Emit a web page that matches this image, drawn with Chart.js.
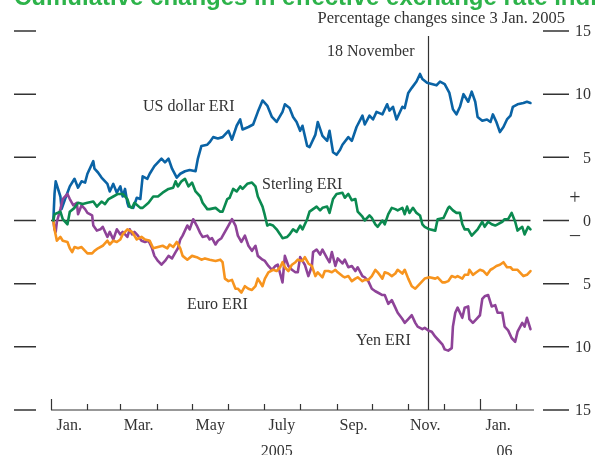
<!DOCTYPE html>
<html>
<head>
<meta charset="utf-8">
<script src="https://cdn.jsdelivr.net/npm/chart.js@4"></script>
<style>
  body { margin: 0; background: #fff; }
</style>
</head>
<body>
<canvas id="myChart" width="595" height="455"></canvas>
<script>
// days counted from 1 Jan. 2005, values = % change since 3 Jan. 2005
const usdDays = [2,3,4,8,9,12,16,20,23,26,29,31,36,37,40,43,48,50,53,56,59,61,63,65,66,70,73,76,78,82,84,88,91,94,97,100,103,107,110,114,118,123,125,128,133,135,138,142,146,151,154,158,161,163,168,172,176,180,184,188,192,197,199,203,206,209,212,214,218,220,225,227,231,235,237,240,243,246,248,253,256,260,265,267,271,274,277,282,286,288,291,294,299,301,304,307,311,314,316,320,324,328,331,335,339,342,345,348,351,355,358,361,363,367,371,374,376,379,382,385,388,391,393,397,402,405,408];
const usdValues = [0,2.1,3.1,1.9,0.9,1.7,2.7,3.3,2.6,3.1,3.0,3.7,4.7,4.1,3.8,3.4,2.9,2.3,2.9,2.2,2.7,1.9,2.5,1.4,1.1,1.0,1.8,1.7,3.5,3.3,3.7,4.3,4.6,4.9,4.6,4.9,4.1,3.4,3.7,3.9,4.0,3.9,4.9,5.9,6.0,6.2,6.6,6.5,6.6,7.1,6.4,7.5,8.0,7.2,7.4,7.6,8.6,9.5,9.1,8.2,7.8,8.6,9.2,8.9,8.2,7.8,7.1,7.5,5.9,5.8,6.8,7.8,6.7,6.3,7.1,5.4,5.2,5.6,6.0,6.6,6.3,7.4,8.3,7.6,8.3,8.0,8.6,8.4,9.2,8.7,9.0,8.0,9.0,8.9,10.1,10.5,11.0,11.6,11.2,10.9,10.8,10.7,11.0,10.8,10.1,8.8,8.4,9.0,10.0,9.4,10.2,9.4,8.2,7.9,8.0,7.8,8.4,7.8,7.0,7.4,8.0,8.3,9.0,9.2,9.3,9.4,9.3];

const sterlingDays = [2,3,8,10,14,16,20,23,27,31,36,39,43,46,49,53,57,61,65,67,69,71,76,78,83,87,91,95,100,104,106,108,111,114,117,120,123,127,129,133,135,140,144,146,150,152,155,158,161,163,167,171,174,176,180,182,184,186,189,192,195,197,201,203,206,209,212,214,218,220,223,226,229,231,235,237,240,243,248,250,253,256,259,261,265,267,271,273,276,278,282,284,287,290,293,295,299,301,303,305,308,311,314,316,318,322,327,329,334,338,339,342,345,348,350,352,355,358,361,363,367,369,372,375,378,380,384,386,389,392,395,397,401,403,406,408];
const sterlingValues = [0,0.5,0.7,0.1,-0.3,0.7,1.0,1.4,1.3,1.4,1.5,1.1,1.5,1.3,1.7,1.9,2.1,2.1,1.7,1.1,1.0,1.4,1.0,1.0,1.4,1.9,1.9,2.2,2.5,2.6,3.1,2.7,3.1,3.3,2.7,3.0,2.3,1.9,1.4,0.9,0.9,1.0,0.7,0.7,1.7,1.8,2.5,2.3,2.7,2.5,2.9,3.0,2.7,1.9,1.1,0.4,-0.4,-0.3,-0.4,-0.7,-1.1,-1.4,-1.3,-1.1,-0.7,-0.9,-0.4,-0.7,0.1,0.7,0.9,1.1,0.8,1.0,1.1,0.6,1.7,2.1,2.2,1.8,2.1,1.6,1.7,0.7,0.3,0.0,0.4,0.2,-0.3,-0.5,0.0,-0.3,0.5,1.0,0.9,0.8,1.0,0.5,1.1,0.6,1.0,0.6,0.4,-0.3,-0.5,-0.7,-0.8,0.1,0.2,1.0,1.1,0.8,0.6,0.6,-0.3,-0.7,-0.7,-1.2,-0.9,-0.7,-0.1,-0.5,-0.1,-0.3,-0.4,-0.3,-0.1,0.1,0.1,0.6,-0.1,-0.8,-0.5,-1.1,-0.5,-0.7];

const euroDays = [2,3,5,8,10,14,16,18,20,23,26,29,31,35,37,40,44,48,50,53,56,59,61,65,69,73,77,80,84,87,91,95,99,101,104,107,110,112,116,120,124,128,131,135,140,144,146,148,151,154,157,159,162,165,168,171,174,176,180,182,185,189,192,195,197,199,202,205,208,210,214,216,219,222,225,227,231,233,236,239,242,244,248,250,253,256,259,261,265,267,270,273,276,278,282,284,287,290,293,295,299,301,304,307,310,312,316,318,322,327,329,333,335,338,341,344,346,350,352,355,356,359,362,365,368,371,374,376,379,382,385,388,391,393,397,399,402,405,408];
const euroValues = [0,-0.7,-1.6,-1.3,-1.6,-1.7,-2.2,-2.5,-2.1,-2.2,-2.1,-2.4,-2.6,-2.6,-2.4,-2.2,-2.0,-1.6,-1.9,-1.6,-1.7,-1.5,-1.1,-0.7,-0.9,-1.5,-1.3,-1.5,-1.6,-2.2,-2.1,-2.0,-2.2,-1.9,-2.1,-1.7,-2.2,-2.8,-3.1,-2.8,-2.9,-3.1,-3.0,-3.1,-3.2,-3.1,-3.3,-4.6,-4.8,-4.7,-5.4,-5.4,-5.7,-5.2,-5.4,-5.5,-5.2,-4.6,-5.2,-4.6,-4.1,-3.9,-4.0,-3.7,-3.3,-3.7,-4.0,-3.5,-3.3,-3.1,-3.2,-2.9,-3.4,-3.6,-4.4,-4.1,-4.5,-4.0,-4.0,-4.1,-3.9,-4.1,-4.4,-4.5,-4.4,-4.8,-4.6,-4.5,-4.8,-4.7,-4.7,-4.4,-3.9,-4.1,-4.6,-4.1,-4.2,-4.4,-4.2,-3.9,-4.2,-3.9,-4.6,-5.2,-5.4,-5.2,-4.8,-4.6,-4.5,-4.6,-4.5,-4.9,-4.9,-4.8,-4.4,-4.5,-4.4,-4.6,-4.3,-4.3,-3.9,-4.3,-4.1,-3.9,-4.0,-4.3,-3.9,-3.8,-3.6,-3.5,-3.3,-3.7,-3.7,-3.9,-3.9,-4.1,-4.4,-4.3,-4.0];

const yenDays = [2,3,4,5,8,10,14,16,19,22,23,26,29,31,35,36,39,42,44,48,50,53,56,59,61,65,67,69,71,74,77,80,83,86,88,91,94,97,100,103,106,108,110,112,116,118,121,124,127,129,133,135,137,140,142,145,148,151,154,157,159,162,165,168,171,174,176,180,182,185,188,191,193,197,199,202,205,208,210,212,214,216,219,222,223,226,229,231,235,237,239,242,244,248,250,253,256,259,261,265,267,270,273,276,278,282,284,287,290,293,295,299,301,304,307,310,312,316,318,321,324,327,329,333,335,338,341,342,344,346,350,352,355,356,359,362,365,367,369,372,375,378,380,384,386,389,392,395,397,401,403,405,408];
const yenValues = [0,-0.7,-0.9,-0.1,0.9,1.7,2.1,1.7,1.2,1.4,0.5,1.2,0.9,0.6,0.4,-0.4,-0.8,-0.7,-0.5,-1.3,-0.9,-1.5,-0.7,-1.1,-0.9,-1.3,-0.7,-1.1,-0.9,-1.2,-1.6,-1.7,-1.6,-2.2,-2.8,-3.2,-3.5,-3.2,-2.8,-3.0,-2.5,-2.2,-1.5,-1.2,-0.4,-0.7,0.1,-0.4,-1.0,-1.3,-1.2,-1.5,-1.4,-1.9,-1.6,-1.4,-0.9,-0.4,0.1,-0.4,-1.2,-1.7,-1.2,-2.0,-2.4,-2.0,-2.8,-3.1,-3.2,-3.6,-3.9,-3.6,-3.5,-4.9,-2.8,-3.6,-3.9,-4.1,-4.1,-2.9,-3.2,-3.5,-4.4,-3.6,-2.5,-2.3,-2.7,-2.3,-3.0,-3.3,-2.5,-3.6,-3.0,-3.4,-3.1,-3.7,-3.6,-4.0,-3.7,-4.4,-4.5,-4.8,-5.4,-5.6,-5.7,-5.9,-5.9,-6.6,-6.3,-6.9,-7.3,-7.8,-8.1,-7.8,-7.5,-8.1,-8.4,-8.6,-8.5,-8.7,-8.8,-9.2,-9.4,-9.8,-10.2,-10.3,-10.1,-8.4,-7.3,-6.9,-7.7,-6.9,-6.8,-7.8,-8.1,-7.8,-7.5,-6.2,-6.0,-5.9,-6.8,-6.7,-7.3,-7.3,-8.4,-8.7,-9.3,-9.6,-8.8,-8.1,-8.4,-7.7,-8.6];

// axis stuff
const monthStarts = [0,31,59,90,120,151,181,212,243,273,304,334,365,396];
const monthLabels = ["Jan.","Mar.","May","July","Sep.","Nov.","Jan."];
const monthLabelDays = [15.5,74.5,135.5,196.5,257.5,318.5,380.5];
const yTicks = [15,10,5,0,-5,-10,-15];
const markerDay = 321; // 18 November

const serif = '"Liberation Serif", "Times New Roman", serif';
const ink = '#333';

const mk = (days, vals) => days.map((d, i) => ({x: d, y: vals[i]}));

const decor = {
  id: 'decor',
  beforeDatasetsDraw(chart) {
    const {ctx, scales: {x, y}} = chart;
    ctx.save();
    ctx.strokeStyle = ink;
    ctx.lineWidth = 1.5;
    ctx.beginPath();
    ctx.moveTo(x.getPixelForValue(0), y.getPixelForValue(0));
    ctx.lineTo(x.getPixelForValue(408), y.getPixelForValue(0));
    ctx.stroke();
    const nx = Math.round(x.getPixelForValue(markerDay)) + 0.5;
    ctx.lineWidth = 1.2;
    ctx.beginPath();
    ctx.moveTo(nx, y.getPixelForValue(14.6));
    ctx.lineTo(nx, y.getPixelForValue(-15));
    ctx.stroke();
    ctx.restore();
  },
  afterDatasetsDraw(chart) {
    const {ctx, chartArea, scales: {x, y}} = chart;
    ctx.save();
    ctx.strokeStyle = ink;
    ctx.fillStyle = ink;
    ctx.lineWidth = 1.5;
    // side ticks + labels
    yTicks.forEach(v => {
      const py = y.getPixelForValue(v);
      ctx.beginPath();
      ctx.moveTo(chartArea.left - 37, py); ctx.lineTo(chartArea.left - 15, py);
      ctx.moveTo(chartArea.right + 9, py); ctx.lineTo(chartArea.right + 35, py);
      ctx.stroke();
    });
    ctx.font = '16px ' + serif;
    ctx.textAlign = 'right';
    ctx.textBaseline = 'middle';
    yTicks.forEach(v => {
      ctx.fillText(String(Math.abs(v)), chartArea.right + 57, y.getPixelForValue(v) + 1);
    });
    ctx.textAlign = 'center';
    ctx.font = '20px ' + serif;
    ctx.fillText('+', chartArea.right + 41, y.getPixelForValue(0) - 22);
    ctx.fillText('\u2013', chartArea.right + 41, y.getPixelForValue(0) + 15);

    // bottom axis
    const by = y.getPixelForValue(-15);
    ctx.lineWidth = 1.2;
    ctx.beginPath();
    ctx.moveTo(x.getPixelForValue(0), by);
    ctx.lineTo(x.getPixelForValue(411), by);
    monthStarts.forEach(d => {
      const px = Math.round(x.getPixelForValue(d)) + 0.5;
      const h = (d === 0 || d === 365) ? 11 : 6;
      ctx.moveTo(px, by); ctx.lineTo(px, by - h);
    });
    ctx.stroke();
    ctx.font = '16px ' + serif;
    ctx.textBaseline = 'alphabetic';
    monthLabels.forEach((t, i) => {
      ctx.fillText(t, x.getPixelForValue(monthLabelDays[i]), by + 20);
    });
    ctx.fillText('2005', x.getPixelForValue(192), by + 46);
    ctx.fillText('06', x.getPixelForValue(386), by + 46);

    // annotations
    ctx.textAlign = 'right';
    ctx.font = '16.5px ' + serif;
    ctx.fillText('Percentage changes since 3 Jan. 2005', 565, 23);
    ctx.font = '16px ' + serif;
    ctx.textAlign = 'left';
    ctx.fillText('18 November', 327, 56);
    ctx.fillText('US dollar ERI', 143, 111);
    ctx.fillText('Sterling ERI', 262, 189);
    ctx.fillText('Euro ERI', 187, 309);
    ctx.fillText('Yen ERI', 356, 345);

    // title, cut off at top
    ctx.fillStyle = '#2db34a';
    ctx.font = 'bold 24px "Liberation Sans", Arial, sans-serif';
    ctx.fillText('Cumulative changes in effective exchange rate indices', 14, 5);
    ctx.restore();
  }
};

const data = {
  datasets: [
    {label: 'Sterling ERI', data: mk(sterlingDays, sterlingValues), borderColor: '#0b8a50'},
    {label: 'Euro ERI', data: mk(euroDays, euroValues), borderColor: '#f7941e'},
    {label: 'Yen ERI', data: mk(yenDays, yenValues), borderColor: '#8e4398'},
    {label: 'US dollar ERI', data: mk(usdDays, usdValues), borderColor: '#0a63a5'},
  ]
};

const config = {
  type: 'line',
  data: data,
  options: {
    responsive: false,
    animation: false,
    devicePixelRatio: 1,
    layout: {padding: {left: 51, right: 61, top: 31, bottom: 45}},
    elements: {
      point: {radius: 0},
      line: {borderWidth: 2.6, tension: 0, borderJoinStyle: 'round', borderCapStyle: 'round'}
    },
    plugins: {legend: {display: false}, tooltip: {enabled: false}},
    scales: {
      x: {type: 'linear', min: 0, max: 411, display: false},
      y: {min: -15, max: 15, display: false}
    }
  },
  plugins: [decor]
};

new Chart(document.querySelector('#myChart'), config);
</script>
</body>
</html>
